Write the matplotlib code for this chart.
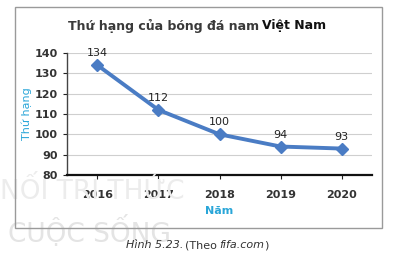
import matplotlib.pyplot as plt
from matplotlib.patches import Rectangle

# ====== Dữ liệu ======
years = ["2016", "2017", "2018", "2019", "2020"]
ranks = [134, 112, 100, 94, 93]
y_ticks = [80, 90, 100, 110, 120, 130, 140]

fig = plt.figure(figsize=(4.08, 2.61), dpi=100)

# watermark mờ phía sau
fig.text(0.0, 1 - 191 / 261, "NỐI TRI THỨC", fontsize=19, color="#ececec",
         ha="left", va="center", zorder=0, family="DejaVu Sans Condensed")
fig.text(0.02, 1 - 232 / 261, "CUỘC SỐNG", fontsize=19, color="#e4e4e4",
         ha="left", va="center", zorder=0, family="DejaVu Sans Condensed")

# khung bao biểu đồ
fig.patches.append(Rectangle((15 / 408, 1 - 228 / 261), 367 / 408, 221 / 261,
                             transform=fig.transFigure, fill=False,
                             edgecolor="#9a9a9a", linewidth=1.0, zorder=1))

ax = fig.add_axes([0.164, 0.3295, 0.748, 0.4675])
ax.set_facecolor("none")

x = list(range(len(years)))
ax.plot(x, ranks, color="#4a7cc4", linewidth=2.8, marker="D",
        markersize=6, zorder=3)

for xi, r in zip(x, ranks):
    ax.annotate(str(r), (xi, r), xytext=(0, 5), textcoords="offset points",
                ha="center", va="bottom", fontsize=8, color="#222222")

ax.set_xlim(-0.5, len(years) - 0.5)
ax.set_ylim(80, 140)
ax.set_yticks(y_ticks)
ax.set_xticks(x)
ax.set_xticklabels(years)
ax.grid(axis="y", color="#cfcfcf", linewidth=0.8)
ax.set_axisbelow(True)

for s in ["top", "right"]:
    ax.spines[s].set_visible(False)
ax.spines["left"].set_color("#444444")
ax.spines["left"].set_linewidth(1.0)
ax.spines["bottom"].set_color("#111111")
ax.spines["bottom"].set_linewidth(1.6)

ax.tick_params(axis="both", labelsize=8, colors="#222222", length=3)
ax.tick_params(axis="x", pad=8)
for lab in ax.get_xticklabels() + ax.get_yticklabels():
    lab.set_fontweight("bold")
    lab.set_color("#333333")

ax.set_xlabel("Năm", fontsize=8, color="#2aa6d8", fontweight="bold", labelpad=4)
ax.set_ylabel("Thứ hạng", fontsize=8, color="#2aa6d8", labelpad=2)

# tiêu đề: "Việt Nam" đậm hơn
fig.canvas.draw()
r = fig.canvas.get_renderer()
W = fig.bbox.width
t1 = fig.text(68 / 408, 1 - 26 / 261, "Thứ hạng của bóng đá nam",
              ha="left", va="center", fontsize=9, fontweight="semibold",
              color="#3a3a3a")
bb = t1.get_window_extent(r)
fig.text((bb.x1 + 3) / W, 1 - 26 / 261, "Việt Nam", ha="left",
         va="center", fontsize=9, fontweight="heavy", color="#111111")

# chú thích hình
cy = 1 - 245 / 261
c1 = fig.text(126 / 408, cy, "Hình 5.23.", ha="left", va="center",
              fontsize=8, style="italic", color="#333333")
x1 = c1.get_window_extent(r).x1
c2 = fig.text((x1 + 2) / W, cy, "(Theo", ha="left", va="center",
              fontsize=8, color="#333333")
x2 = c2.get_window_extent(r).x1
c3 = fig.text((x2 + 2) / W, cy, "fifa.com", ha="left", va="center",
              fontsize=8, style="italic", color="#333333")
x3 = c3.get_window_extent(r).x1
fig.text(x3 / W, cy, ")", ha="left", va="center",
         fontsize=8, color="#333333")

fig.savefig("out.png", dpi=100)
